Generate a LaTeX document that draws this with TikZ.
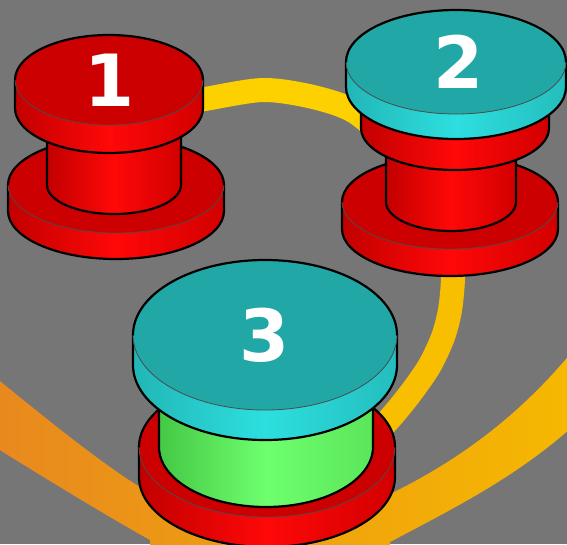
\documentclass[tikz,border=0pt]{standalone}
\usepackage{fontspec}
\newfontfamily\digitfont{DejaVu Sans}
\definecolor{bg}{HTML}{767676}
\definecolor{redtop}{HTML}{CC0000}
\definecolor{redL}{HTML}{C20000}
\definecolor{redM}{HTML}{FF0808}
\definecolor{redR}{HTML}{D20000}
\definecolor{cyantop}{HTML}{20A7A6}
\definecolor{cyanL}{HTML}{22B6B6}
\definecolor{cyanM}{HTML}{2DDFDF}
\definecolor{cyanR}{HTML}{24BDBD}
\definecolor{greenL}{HTML}{45C845}
\definecolor{greenM}{HTML}{6EFF6E}
\definecolor{greenR}{HTML}{5AE65A}
\definecolor{ringA}{HTML}{FDD000}
\definecolor{ringB}{HTML}{F7BF00}
\definecolor{bandL}{HTML}{E8881F}
\definecolor{bandR}{HTML}{F6B900}
\tikzset{
  rim/.style={line width=2.2pt, black, line join=round, line cap=round},
  thinrim/.style={line width=0.8pt, black!70},
  ringline/.style={line width=24pt},
  digit/.style={text=white, font=\digitfont\bfseries\fontsize{72}{72}\selectfont, inner sep=0pt}
}
% #1 cx, #2 cy (top centre), #3 rx, #4 ry, #5 height, #6 top colour, #7-#9 side shading
\newcommand\drawdisk[9]{%
  \shade[left color=#7, right color=#9, middle color=#8]
    (#1-#3,#2) -- (#1-#3,#2+#5) arc[start angle=180,end angle=0,x radius=#3,y radius=#4] -- (#1+#3,#2) -- cycle;
  \draw[rim] (#1-#3,#2) -- (#1-#3,#2+#5) arc[start angle=180,end angle=0,x radius=#3,y radius=#4] -- (#1+#3,#2);
  \fill[#6] (#1,#2) ellipse[x radius=#3,y radius=#4];
  \draw[rim] (#1-#3,#2) arc[start angle=180,end angle=360,x radius=#3,y radius=#4];
  \draw[thinrim] (#1-#3,#2) arc[start angle=180,end angle=0,x radius=#3,y radius=#4];
}
\begin{document}
\begin{tikzpicture}[x=1pt,y=1pt,yscale=-1]
\useasboundingbox (0,0) rectangle (567,544);
\fill[bg] (0,0) rectangle (567,544);
% large orange band
\shade[left color=bandL, right color=bandR]
  (-10,373) .. controls (60,430) and (110,470) .. (150,493)
  .. controls (200,525) and (330,535) .. (390,494)
  .. controls (470,455) and (530,405) .. (580,342)
  -- (580,420)
  .. controls (520,475) and (460,505) .. (390,542)
  -- (390,570) -- (150,570) -- (150,540)
  .. controls (100,512) and (40,475) .. (-10,444)
  -- cycle;
% yellow track
\draw[ringline, ringA] plot[smooth] coordinates {(185,102) (205,99) (263,90) (313,97) (355,112) (400,150)};
\draw[ringline, ringB] plot[smooth] coordinates {(452,240) (453,278) (450,310) (443,337) (430,365) (413,390) (393,415) (370,440)};
% spool 1
\drawdisk{116}{185}{108}{48}{26}{redtop}{redL}{redM}{redR}
\drawdisk{114}{120}{67}{29}{65}{redtop}{redL}{redM}{redR}
\drawdisk{109}{80}{94}{45}{28}{redtop}{redL}{redM}{redR}
\node[digit] (n1) at (110,80) {1};
% spool 2
\drawdisk{450}{202}{108}{47}{27}{redtop}{redL}{redM}{redR}
\drawdisk{451}{130}{65}{29}{72}{redtop}{redL}{redM}{redR}
\drawdisk{455}{96}{94}{42}{32}{redtop}{redL}{redM}{redR}
\drawdisk{456}{62}{110}{52}{25}{cyantop}{cyanL}{cyanM}{cyanR}
\node[digit] (n2) at (459,62) {2};
% spool 3
\drawdisk{267}{447}{128}{70}{30}{redtop}{redL}{redM}{redR}
\drawdisk{266}{375}{107}{60}{72}{greenM}{greenL}{greenM}{greenR}
\drawdisk{265}{335}{132}{75}{30}{cyantop}{cyanL}{cyanM}{cyanR}
\node[digit] (n3) at (265,335) {3};
\end{tikzpicture}
\end{document}
